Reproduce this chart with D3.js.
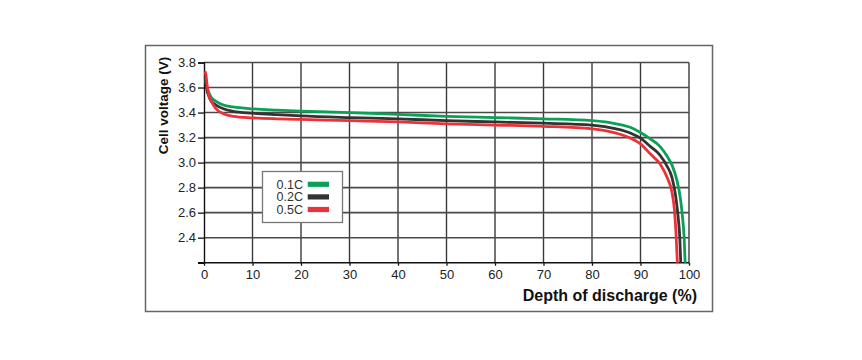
<!DOCTYPE html>
<html><head><meta charset="utf-8">
<script src="https://cdn.jsdelivr.net/npm/d3@7"></script>
<style>body{margin:0;background:#fff}svg{display:block}text{font-family:"Liberation Sans",Arial,sans-serif}</style>
</head><body><svg id="c" width="862" height="360"></svg>
<script>
const xTicks = [0,10,20,30,40,50,60,70,80,90,100];
const yTicks = [2.2,2.4,2.6,2.8,3.0,3.2,3.4,3.6,3.8];
const seriesNames = ["0.1C","0.2C","0.5C"];
const seriesColors = ["#0aa157","#333333","#ec3237"];
const green01C = [[0.25,3.68],[0.5,3.62],[1,3.56],[1.5,3.52],[2.5,3.49],[4,3.46],[6,3.445],[10,3.43],[15,3.42],[20,3.412],[30,3.40],[40,3.385],[50,3.37],[60,3.36],[70,3.35],[80,3.335],[85,3.31],[88,3.28],[90,3.24],[92,3.19],[94,3.13],[95.5,3.05],[96.5,2.98],[97.5,2.86],[98.2,2.72],[98.7,2.55],[99.0,2.40],[99.2,2.2]];
const black02C = [[0.25,3.69],[0.5,3.6],[1,3.53],[1.5,3.49],[2.5,3.46],[4,3.43],[6,3.41],[10,3.395],[15,3.383],[20,3.373],[30,3.36],[40,3.35],[50,3.335],[60,3.325],[70,3.315],[80,3.30],[85,3.27],[88,3.235],[90,3.195],[92,3.13],[94,3.06],[95.5,2.97],[96.5,2.88],[97.3,2.72],[97.8,2.55],[98.1,2.4],[98.3,2.2]];
const red05C = [[0.2,3.73],[0.4,3.7],[0.7,3.6],[1,3.54],[1.5,3.49],[2.5,3.43],[4,3.39],[6,3.37],[10,3.358],[15,3.35],[20,3.345],[30,3.335],[40,3.325],[50,3.31],[60,3.30],[70,3.29],[80,3.27],[85,3.235],[88,3.195],[90,3.15],[92,3.07],[94,2.99],[95.5,2.88],[96.5,2.76],[97,2.62],[97.3,2.45],[97.6,2.2]];
const seriesData = [green01C, black02C, red05C];

const svg = d3.select("#c");
const x = d3.scaleLinear().domain([0,100]).range([204,689]);
const y = d3.scaleLinear().domain([2.2,3.8]).range([262.7,62.5]);

// frame
svg.append("rect").attr("x",145.5).attr("y",45.5).attr("width",567).attr("height",266)
  .attr("fill","#fff").attr("stroke","#666").attr("stroke-width",1.5);

// grid
const g = svg.append("g");
g.selectAll("line.v").data(xTicks.slice(1)).join("line")
  .attr("x1",d=>x(d)).attr("x2",d=>x(d)).attr("y1",y(3.8)).attr("y2",y(2.2))
  .attr("stroke","#3a3a3a").attr("stroke-width",1.4);
g.selectAll("line.h").data(yTicks.slice(1)).join("line")
  .attr("x1",x(0)).attr("x2",x(100)).attr("y1",d=>y(d)).attr("y2",d=>y(d))
  .attr("stroke","#4a4a4a").attr("stroke-width",1.6);

// axes
const xa = svg.append("g").attr("transform",`translate(0,${y(2.2)})`)
  .call(d3.axisBottom(x).tickValues(xTicks).tickSize(3).tickPadding(4).tickFormat(d3.format("d")));
const ya = svg.append("g").attr("transform",`translate(${x(0)},0)`)
  .call(d3.axisLeft(y).tickValues(yTicks).tickSize(6).tickPadding(2).tickFormat(d=>d===2.2?"":d3.format(".1f")(d)));
[xa,ya].forEach(a=>{
  a.select(".domain").attr("stroke","#111").attr("stroke-width",1.4);
  a.selectAll(".tick line").attr("stroke","#111").attr("stroke-width",1.3);
  a.selectAll("text").attr("font-size",13).attr("fill","#222").attr("font-family","'Liberation Sans',Arial,sans-serif");
});
xa.select(".domain").attr("d",`M${x(0)-6},0H${x(100)}`);

// curves
const line = d3.line().x(d=>x(d[0])).y(d=>y(d[1])).curve(d3.curveMonotoneX);
svg.append("g").selectAll("path").data(seriesData).join("path")
  .attr("d",line).attr("fill","none")
  .attr("stroke",(d,i)=>seriesColors[i]).attr("stroke-width",2.8);

// legend
const lg = svg.append("g");
lg.append("rect").attr("x",262.5).attr("y",171.5).attr("width",80).attr("height",51)
  .attr("fill","#fff").attr("stroke","#777").attr("stroke-width",1.3);
seriesNames.forEach((n,i)=>{
  const cy = 184.3 + i*12.6;
  lg.append("text").attr("x",303).attr("y",cy+4.3).attr("text-anchor","end")
    .attr("font-size",12.5).attr("fill","#333").text(n);
  lg.append("rect").attr("x",307.7).attr("y",cy-2.6).attr("width",21.3).attr("height",5.2)
    .attr("fill",seriesColors[i]);
});

// axis titles
svg.append("text").attr("transform","translate(168,105.5) rotate(-90)").attr("text-anchor","middle")
  .attr("font-size",13.5).attr("font-weight","bold").attr("fill","#111").text("Cell voltage (V)");
svg.append("text").attr("x",697).attr("y",301).attr("text-anchor","end")
  .attr("font-size",16).attr("font-weight","bold").attr("fill","#111").text("Depth of discharge (%)");
</script></body></html>
